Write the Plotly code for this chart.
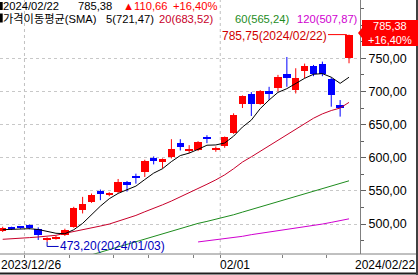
import plotly.graph_objects as go

# ---------------- data ----------------
label_first, label_mid, label_last = "2023/12/26", "02/01", "2024/02/22"
opens = [490, 494.5, 496, 498, 493, 477, 478.5, 483.5, 496, 521, 534, 550, 544, 549, 564, 573, 579, 599, 593.5, 601,
         623, 609.5, 611, 630.5, 613, 617, 637, 681, 696, 681, 701, 705, 727, 702, 731, 738.5, 742, 718.5, 680, 750]
highs = [496, 496, 497, 499.5, 495, 480, 482, 493, 526, 541, 546, 552, 548, 568, 565, 576, 597, 602, 599, 628,
         628, 619, 625, 634, 617, 632, 667, 694, 699, 702, 707, 725, 752, 735, 742, 740, 745, 721, 687, 785.75]
lows = [488, 491, 493, 492, 476, 473.2, 476.5, 482, 494.5, 516, 532, 536, 542, 547, 549, 561, 571, 590, 584, 599,
        611, 607, 610, 622, 609, 615, 636, 675, 663, 680, 687, 700, 707, 697, 720, 723, 723, 677, 662, 742.5]
closes = [494.5, 493, 494.5, 494, 483, 478.5, 480.5, 491, 524, 531, 543.5, 545.5, 547, 564, 559, 570.5, 595, 595.5, 597.5, 612.5,
          616, 613.5, 624, 628.5, 614.5, 631, 664.5, 693, 681, 701, 696, 722, 721, 721, 739, 726.25, 727, 694, 674.72, 785.38]
sma5 = [491.5, 492, 492.5, 493, 491.8, 488.6, 486.1, 485.4, 491.4, 501.0, 514.0, 527.0, 538.2, 546.2, 551.8, 557.2,
        567.1, 576.8, 583.5, 594.2, 603.3, 607.0, 612.7, 618.9, 619.3, 622.3, 632.5, 646.3, 656.8, 674.1, 687.1, 698.6,
        704.2, 712.2, 719.8, 725.9, 726.9, 721.5, 712.2, 721.47]
sma20 = [477, 477.5, 478.5, 479.5, 480.5, 481.5, 483, 486, 488.5, 491, 494, 497, 500, 504, 508, 513, 518.5, 523.5, 529,
         534.7, 540.8, 546.8, 553.3, 560.0, 566.6, 574.2, 583.4, 593.5, 601.4, 609.9, 617.5, 626.3, 635.0, 642.9, 651.9,
         659.6, 666.2, 671.2, 675.0, 683.52]
sma60 = [414, 418, 422, 426, 430, 434, 438, 442, 446, 450, 454, 458, 462, 466, 470, 474, 478, 482, 485.5, 489, 493, 497,
         501, 504, 507, 510, 514, 518, 522, 526, 530, 534, 538, 542, 546, 549.5, 553, 557, 561, 565.24]
sma120 = [None] * 22 + [473, 474.5, 476.5, 478, 479.5, 481.5, 484, 486, 488, 490, 491.5, 493, 495, 497.5, 500, 502.5,
                        505, 507.87]
last_close, change, change_pct = 785.38, 110.66, 16.40
high_val, high_date = 785.75, "2024/02/22"
low_val, low_date = 473.2, "2024/01/03"
xtick_pos = [2.45, 7.5, 12.45, 16.4, 21.45, 24.5, 31.55, 36.5]
vgrid_pos = [2.45, 24.5]
yticks = [500, 550, 600, 650, 700, 750]
yminor = [475, 525, 575, 625, 675, 725, 775, 800, 825]

RED, BLUE = "#FF0000", "#0000FF"
C20, C60, C120 = "#C8002A", "#1E8C1E", "#D000D0"
FONT = "Liberation Sans, Noto Sans CJK KR, sans-serif"

W, H = 418, 275
ML, MR, MT, MB = 0, 58, 0, 21
PW, PH = W - ML - MR, H - MT - MB


def fmt(v):
    return f"{v:.2f}".replace(".", ",")


def pxx(px):
    return px / PW


def pxy(py):
    return (PH - py) / PH


n = len(closes)
idx = list(range(n))
up = [c >= o for o, c in zip(opens, closes)]
colors = [RED if u else BLUE for u in up]

fig = go.Figure()

# wicks
for col, flag in ((RED, True), (BLUE, False)):
    xs, ys = [], []
    for i in idx:
        if up[i] == flag:
            xs += [i, i, None]
            ys += [lows[i], highs[i], None]
    fig.add_trace(go.Scatter(x=xs, y=ys, mode="lines", line=dict(color=col, width=1),
                             hoverinfo="skip", showlegend=False))

# bodies
base = [min(o, c) for o, c in zip(opens, closes)]
hgt = [max(abs(c - o), 1.3) for o, c in zip(opens, closes)]
fig.add_trace(go.Bar(x=idx, y=hgt, base=base, width=0.84, marker=dict(color=colors, line=dict(width=0)),
                     showlegend=False, hoverinfo="skip"))

# moving averages
for vals, col in ((sma120, C120), (sma60, C60), (sma20, C20), (sma5, "#000000")):
    fig.add_trace(go.Scatter(x=idx, y=vals, mode="lines", line=dict(color=col, width=1),
                             hoverinfo="skip", showlegend=False))

shapes = []
for gx in vgrid_pos:
    shapes.append(dict(type="line", xref="x", yref="paper", x0=gx, x1=gx, y0=0, y1=1,
                       line=dict(color="#C0C0C0", width=1, dash="3px,3px"), layer="below"))
# bottom axis line across whole width, bottom & right frame
shapes.append(dict(type="line", xref="paper", yref="paper", x0=0, x1=pxx(W), y0=0, y1=0,
                   line=dict(color="#808080", width=1)))
shapes.append(dict(type="line", xref="paper", yref="paper", x0=0, x1=pxx(W), y0=pxy(273.5), y1=pxy(273.5),
                   line=dict(color="#202020", width=2)))
shapes.append(dict(type="line", xref="paper", yref="paper", x0=pxx(417), x1=pxx(417), y0=pxy(0), y1=pxy(275),
                   line=dict(color="#404040", width=2)))
# header bullets
for y0, y1 in ((2, 10), (13.5, 22.5)):
    shapes.append(dict(type="rect", xref="paper", yref="paper", x0=0, x1=pxx(2.7), y0=pxy(y1), y1=pxy(y0),
                       fillcolor="#000000", line=dict(width=0)))
# current price box with notch
pts = [(362, 20), (418, 20), (418, 46), (362, 46), (362, 38), (358, 33), (362, 28)]
path = "M " + " L ".join(f"{pxx(a)},{pxy(b)}" for a, b in pts) + " Z"
shapes.append(dict(type="path", xref="paper", yref="paper", path=path, fillcolor=RED, line=dict(width=0),
                   layer="above"))
# high marker line
hx = n - 1
shapes.append(dict(type="line", xref="x", yref="y", x0=hx - 2.37, x1=hx - 0.26, y0=high_val, y1=high_val,
                   line=dict(color=RED, width=1)))
shapes.append(dict(type="line", xref="x", yref="y", x0=hx - 0.26, x1=hx - 0.26, y0=high_val, y1=high_val - 4,
                   line=dict(color=RED, width=1)))
# low marker line
li = lows.index(low_val)
shapes.append(dict(type="line", xref="x", yref="y", x0=li, x1=li, y0=low_val, y1=low_val - 7,
                   line=dict(color="#0000C0", width=1)))
shapes.append(dict(type="line", xref="x", yref="y", x0=li, x1=li + 1.3, y0=low_val - 7, y1=low_val - 7,
                   line=dict(color="#0000C0", width=1)))

ann = []


def txt(px, py, s, color="#000000", size=12, xanchor="left", xref="paper", yref="paper", x=None, y=None):
    ann.append(dict(x=pxx(px) if x is None else x, y=pxy(py) if y is None else y, xref=xref, yref=yref,
                    text=s, showarrow=False, xanchor=xanchor, yanchor="middle",
                    font=dict(family=FONT, size=size, color=color), borderpad=0))


HF = 11.2
# header line 1
txt(2, 6, label_last, size=HF)
txt(77, 6, fmt(last_close), size=HF)
txt(122, 6, "▲" + fmt(change), RED, size=HF)
txt(172, 6, "+" + fmt(change_pct) + "%", RED, size=HF)
# header line 2
txt(2, 19, "가격이동평균(SMA)", size=HF)
txt(105, 19, f"5({fmt(sma5[-1])})", size=HF)
txt(158, 19, f"20({fmt(sma20[-1])})", C20, size=HF)
txt(234, 19, f"60({fmt(sma60[-1])})", C60, size=HF)
txt(296, 19, f"120({fmt(sma120[-1])})", C120, size=HF)
# price box text
txt(390, 33, fmt(last_close) + "<br>+" + fmt(change_pct) + "%", "#FFFFFF", 11, "center")
# high / low marker text
txt(0, 0, f"{fmt(high_val)}({high_date})", "#D00000", 12, "right", xref="x", yref="y",
    x=hx - 2.4, y=high_val - 2)
txt(0, 0, f"{fmt(low_val)}({low_date})", "#0000C0", 12, "left", xref="x", yref="y",
    x=li + 1.3, y=low_val - 7)
# x labels
txt(0, 265, label_first)
txt(219, 265, label_mid)
txt(416, 265, label_last, xanchor="right")

fig.update_layout(
    width=W, height=H, margin=dict(l=ML, r=MR, t=MT, b=MB),
    paper_bgcolor="#FFFFFF", plot_bgcolor="#FFFFFF",
    separators=",.", showlegend=False, hovermode=False, bargap=0,
    shapes=shapes, annotations=ann,
    xaxis=dict(range=[-2.7 / 8.88, (PW - 2.7) / 8.88], showgrid=False, zeroline=False, showticklabels=False,
               tickvals=xtick_pos, ticks="outside", ticklen=3, tickcolor="#808080", showline=False,
               fixedrange=True),
    yaxis=dict(side="right", range=[750 - (PH - 58.3) / 0.663, 750 + 58.3 / 0.663], tickvals=yticks,
               tickformat=".2f", ticks="outside", ticklen=5, tickcolor="#606060",
               minor=dict(tickvals=yminor, ticks="outside", ticklen=3, tickcolor="#606060", showgrid=False),
               showgrid=True, gridcolor="#C8C8C8", griddash="3px,3px", gridwidth=1,
               showline=True, linecolor="#808080", linewidth=1, zeroline=False,
               tickfont=dict(family=FONT, size=12.5, color="#000000"), fixedrange=True),
)

fig.write_html("out.html")
